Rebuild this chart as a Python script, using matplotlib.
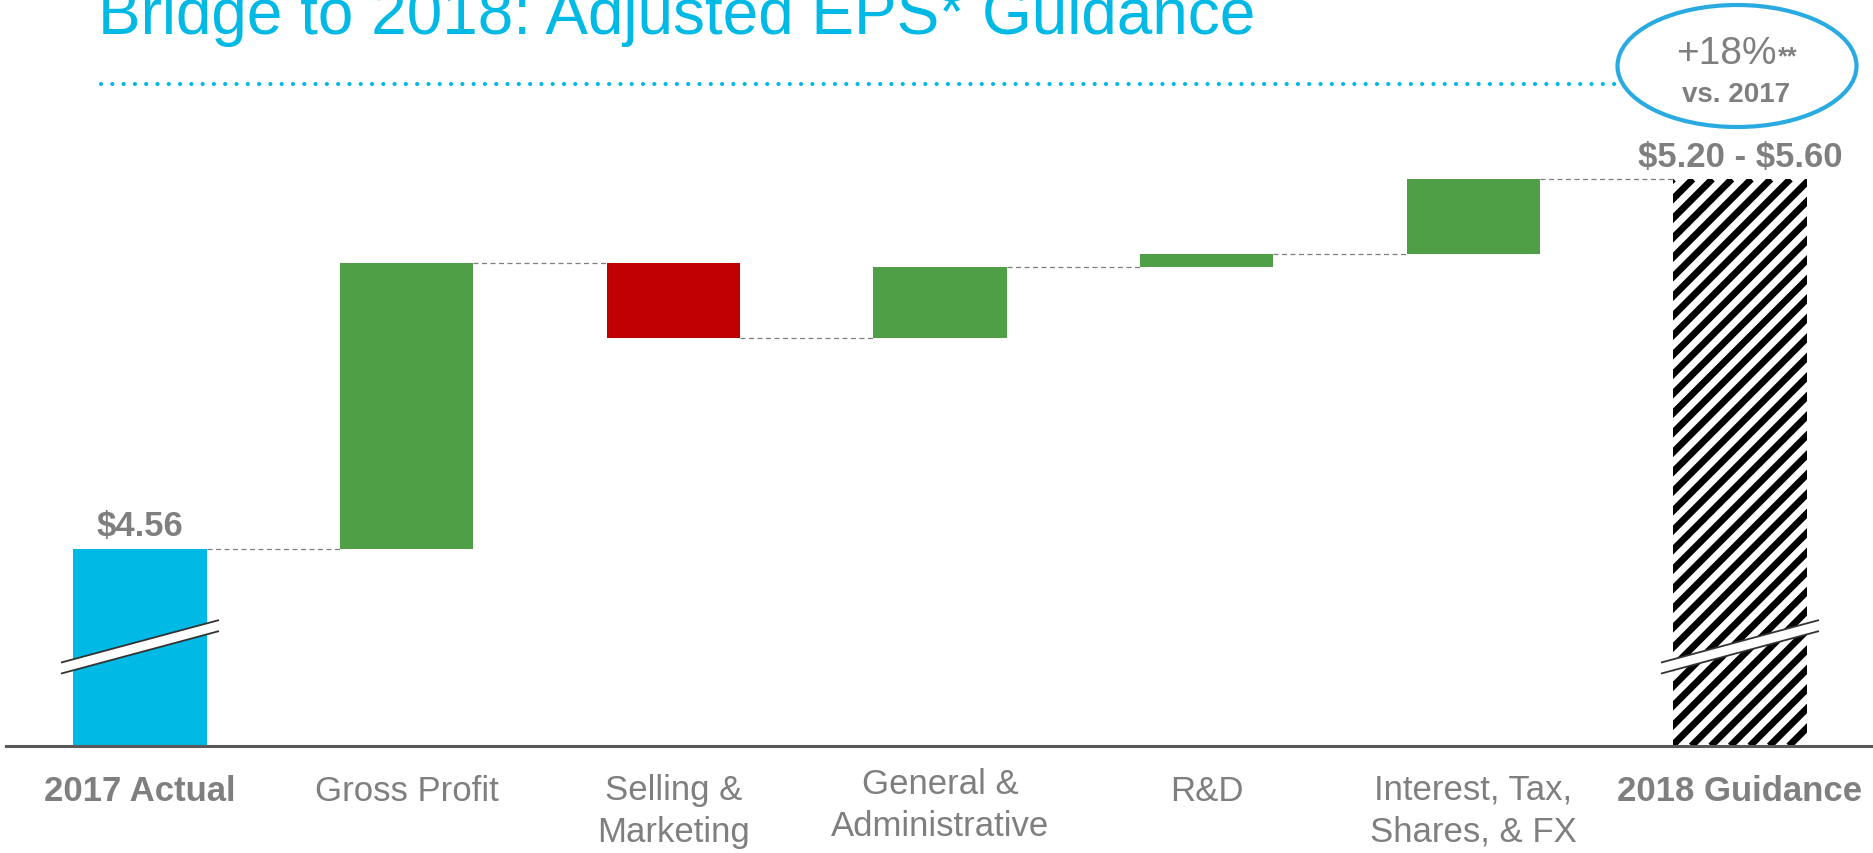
import matplotlib
matplotlib.use('Agg')
import matplotlib.pyplot as plt
import numpy as np
from matplotlib.patches import Ellipse, Polygon
from matplotlib.lines import Line2D

plt.rcParams['font.family'] = ['Liberation Sans', 'DejaVu Sans']

# Datos del puente EPS
categorias = ['2017 Actual', 'Gross Profit', 'Selling &\nMarketing', 'General &\nAdministrative',
              'R&D', 'Interest, Tax,\nShares, & FX', '2018 Guidance']
eps_2017 = 4.56
cambios = [0.65, -0.17, 0.16, 0.03, 0.17]
guia_baja, guia_alta = 5.20, 5.60
crecimiento = '+18%'

# Colores
CIAN = '#00B9E4'
VERDE = '#4E9F45'
ROJO = '#C00000'
GRIS = '#7F7F7F'

W, H = 1874, 854
fig = plt.figure(figsize=(W / 100, H / 100), dpi=100)
ax = fig.add_axes([0, 0, 1, 1])
ax.set_xlim(-0.525, 6.5025)
ax.set_ylim(3.870, 5.8086)
ax.axis('off')

base = 4.113  # base "cortada" del eje
ancho = 0.5

# Barras
eps_2018 = eps_2017 + sum(cambios)
ax.bar(0, eps_2017 - base, bottom=base, width=ancho, color=CIAN, zorder=2)
nivel = eps_2017
niveles = [eps_2017]
for i, c in enumerate(cambios):
    color = VERDE if c >= 0 else ROJO
    ax.bar(i + 1, abs(c), bottom=min(nivel, nivel + c), width=ancho, color=color, zorder=2)
    nivel += c
    niveles.append(nivel)
guia = ax.bar(6, eps_2018 - base, bottom=base, width=ancho, color='white', linewidth=0, zorder=2)[0]

# Rayado diagonal de la barra de guia (45 grados en pantalla), recortado a la barra
px_x = 1 / 266.67   # unidades de datos por pixel en x
px_y = 1 / 440.5    # unidades de datos por pixel en y
alto = guia.get_height()
corr = alto / px_y * px_x
for xs in np.arange(guia.get_x() - corr, guia.get_x() + guia.get_width(), 19.5 * px_x):
    ln, = ax.plot([xs, xs + corr], [base, base + alto], color='black', lw=4.9,
                  solid_capstyle='butt', zorder=2.5)
    ln.set_clip_path(guia)

# Lineas conectoras
for i, n in enumerate(niveles):
    ax.plot([i + ancho / 2, i + 1 - ancho / 2], [n, n], color=GRIS, lw=0.9,
            linestyle=(0, (4, 2.8)), zorder=1)

# Eje horizontal
ax.axhline(base, xmin=0.003, color='#595959', lw=2.2, zorder=3)

# Marcas de corte del eje
def corte(xc, yc=4.338):
    dx = 0.293
    sube = 0.0477
    gap = 0.0125
    arriba = [(xc - dx, yc - sube + gap), (xc + dx, yc + sube + gap)]
    abajo = [(xc - dx, yc - sube - gap), (xc + dx, yc + sube - gap)]
    ax.add_patch(Polygon(arriba + abajo[::-1], closed=True, facecolor='white',
                         edgecolor='none', zorder=4))
    for linea in (arriba, abajo):
        ax.plot([p[0] for p in linea], [p[1] for p in linea], color='#333333', lw=1.3, zorder=5)

corte(0)
corte(6)

# Texto en coordenadas de pixel (desde arriba)
def txt(px, py, s, **kw):
    fig.text(px / W, 1 - py / H, s, **kw)

# Titulo y linea punteada
txt(98, 34, 'Bridge to 2018: Adjusted EPS* Guidance', fontsize=46, color=CIAN, va='baseline')
fig.add_artist(Line2D([101 / W, 1616 / W], [1 - 85 / H, 1 - 85 / H], color=CIAN, lw=3,
                      linestyle=(0, (0.01, 2.7)), dash_capstyle='round'))

# Ovalo de crecimiento
fig.add_artist(Ellipse((1737 / W, 1 - 67 / H), 239 / W, 122 / H, facecolor='white',
                       edgecolor='#29ABE2', lw=3))
txt(1777, 64, crecimiento, fontsize=28, color=GRIS, ha='right', va='baseline')
txt(1778, 64, '**', fontsize=18, color=GRIS, ha='left', va='baseline', fontweight='bold')
txt(1736, 102, 'vs. 2017', fontsize=20, color=GRIS, ha='center', va='baseline', fontweight='bold')

# Etiquetas de valor
txt(140, 536, f'\\${eps_2017:.2f}', fontsize=25, color=GRIS, ha='center', va='baseline',
    fontweight='bold')
txt(1740, 167, f'\\${guia_baja:.2f} - \\${guia_alta:.2f}', fontsize=25, color=GRIS, ha='center',
    va='baseline', fontweight='bold')

# Etiquetas de categoria (va='baseline' usa la ultima linea)
centros = [140 + i * 266.67 for i in range(7)]
for i, cat in enumerate(categorias):
    negrita = i in (0, 6)
    y = 795 if i == 3 else 801
    if '\n' in cat:
        y += 41
    txt(centros[i], y, cat, fontsize=25, color=GRIS, ha='center', va='baseline',
        linespacing=1.36, fontweight='bold' if negrita else 'normal')

fig.savefig('out.png', dpi=100)
